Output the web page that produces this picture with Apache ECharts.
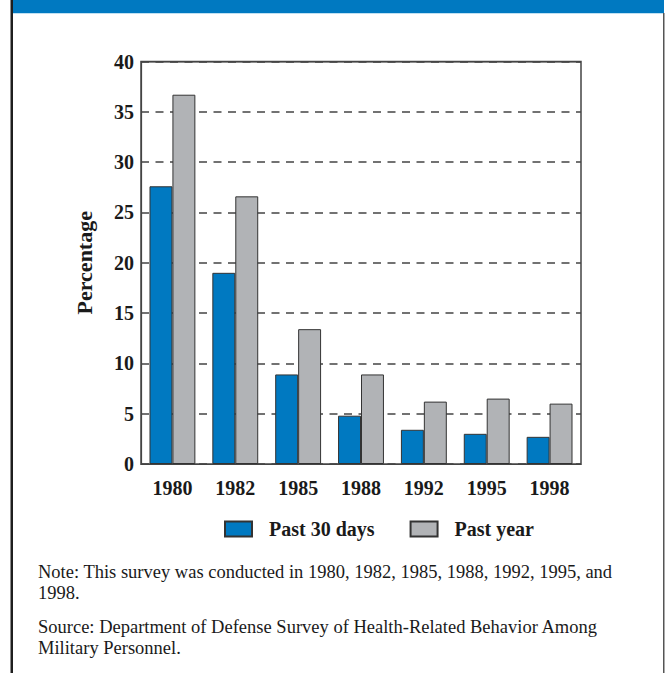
<!DOCTYPE html>
<html>
<head>
<meta charset="utf-8">
<script src="https://cdn.jsdelivr.net/npm/echarts@6/dist/echarts.min.js"></script>
<style>
  html, body { margin: 0; padding: 0; background: #ffffff; }
  #chart { width: 665px; height: 673px; }
</style>
</head>
<body>
<div id="chart"></div>
<script>
// Survey years and percentages
const years = ['1980', '1982', '1985', '1988', '1992', '1995', '1998'];
const past30Days = [27.6, 19.0, 8.9, 4.8, 3.4, 3.0, 2.7];
const pastYear = [36.7, 26.6, 13.4, 8.9, 6.2, 6.5, 6.0];
const seriesNames = ['Past 30 days', 'Past year'];
const yTitle = 'Percentage';
const noteLines = [
  'Note: This survey was conducted in 1980, 1982, 1985, 1988, 1992, 1995, and',
  '1998.'
];
const sourceLines = [
  'Source: Department of Defense Survey of Health-Related Behavior Among',
  'Military Personnel.'
];

const serif = '"Liberation Serif", "DejaVu Serif", serif';
const blue = '#0079c1';
const grey = '#b1b3b6';
const edge = '#333333';
const ink = '#1a1a1a';

const chart = echarts.init(document.getElementById('chart'), null, { renderer: 'svg' });

const textBlock = (lines, top) => lines.map((t, i) => ({
  type: 'text',
  left: 38,
  top: top + i * 21,
  style: { text: t, font: '18.5px ' + serif, fill: ink }
}));

chart.setOption({
  animation: false,
  backgroundColor: '#ffffff',
  grid: {
    left: 141, right: 84, top: 61.5, bottom: 209,
    show: true, borderColor: '#444444', borderWidth: 1.5, backgroundColor: 'transparent'
  },
  legend: {
    data: seriesNames,
    left: 224, top: 519, padding: 0,
    icon: 'rect', itemWidth: 27, itemHeight: 15, itemGap: 35,
    textStyle: { fontFamily: serif, fontWeight: 'bold', fontSize: 20, color: ink, padding: [0, 0, 0, 12] }
  },
  xAxis: {
    type: 'category',
    data: years,
    axisLine: { lineStyle: { color: '#444444', width: 1.2 } },
    axisTick: { show: false },
    axisLabel: { fontFamily: serif, fontWeight: 'bold', fontSize: 20, color: ink, margin: 14 }
  },
  yAxis: {
    type: 'value',
    min: 0, max: 40, interval: 5,
    name: yTitle,
    nameLocation: 'middle', nameRotate: 90, nameGap: 46,
    nameTextStyle: { fontFamily: serif, fontWeight: 'bold', fontSize: 22, color: ink },
    axisLine: { show: true, lineStyle: { color: '#444444', width: 1.2 } },
    axisTick: { show: false },
    axisLabel: { fontFamily: serif, fontWeight: 'bold', fontSize: 20, color: ink, margin: 7 },
    splitLine: { show: true, lineStyle: { color: '#444444', width: 1.5, type: [8, 6.5] } }
  },
  series: [
    {
      name: seriesNames[0], type: 'bar', data: past30Days,
      barGap: '0%', barCategoryGap: '27%',
      itemStyle: { color: blue, borderColor: edge, borderWidth: 1 }
    },
    {
      name: seriesNames[1], type: 'bar', data: pastYear,
      barGap: '0%', barCategoryGap: '27%',
      itemStyle: { color: grey, borderColor: edge, borderWidth: 1 }
    }
  ],
  graphic: [
    // header band and page frame
    { type: 'rect', shape: { x: 13, y: 0, width: 651, height: 13 }, style: { fill: '#0079c1' }, silent: true },
    { type: 'rect', shape: { x: 13, y: 13, width: 651, height: 1 }, style: { fill: '#bfe0f2' }, silent: true },
    { type: 'rect', shape: { x: 10.5, y: 0, width: 2.5, height: 673 }, style: { fill: '#1e1e1e' }, silent: true },
    { type: 'rect', shape: { x: 663, y: 13, width: 1.5, height: 660 }, style: { fill: '#555555' }, silent: true },
    // solid frame edge along the top of the plot
    { type: 'rect', shape: { x: 141, y: 61, width: 440, height: 1.5 }, style: { fill: '#444444' }, silent: true, z: 100 },
    ...textBlock(noteLines, 562),
    ...textBlock(sourceLines, 617)
  ]
});
</script>
</body>
</html>
